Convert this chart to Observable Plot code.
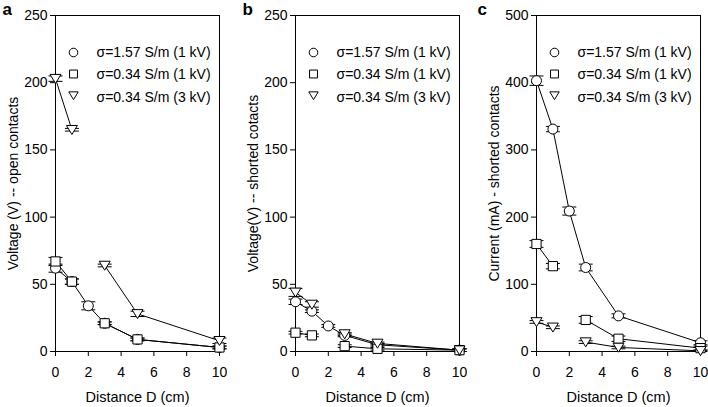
<!DOCTYPE html>
<html><head><meta charset="utf-8">
<script src="https://cdn.jsdelivr.net/npm/d3@7"></script>
<script src="https://cdn.jsdelivr.net/npm/@observablehq/plot@0.6"></script>
<style>
body{margin:0;background:#fff;}
#chart{display:flex;width:708px;height:407px;overflow:hidden;}
</style></head><body><div id="chart"></div>
<script>
// ---- data ----
const seriesNames = ["σ=1.57 S/m (1 kV)", "σ=0.34 S/m (1 kV)", "σ=0.34 S/m (3 kV)"];
const distCircle = [0, 1, 2, 3, 5, 10];
const distSquare = [0, 1, 3, 5, 10];
const distTriangle = [0, 1, 3, 5, 10];
const runCircle = [1, 1, 1, 1, 1, 1];
const runSquare = [1, 1, 2, 2, 2];
const runTriangle = [1, 1, 2, 2, 2];

const panelLetters = ["a", "b", "c"];
const yTitles = ["Voltage (V) -- open contacts", "Voltage(V) -- shorted cotacts", "Current (mA) - shorted contacts"];
const xTitle = "Distance D (cm)";
const xTicks = [0, 2, 4, 6, 8, 10];
const yTicksVoltage = [0, 50, 100, 150, 200, 250];
const yTicksCurrent = [0, 100, 200, 300, 400, 500];

// panel a: voltage, open contacts
const aCircle = [62, 52, 34, 21, 9, 3];
const aSquare = [67, 52, 21, 9, 3];
const aTriangle = [203, 165, 64, 28, 8];
const aCircleErr = [3, 2, 3, 1, 1, 1];
const aSquareErr = [3, 2, 1, 1, 1];
const aTriangleErr = [2, 1, 1, 2, 2];
// panel b: voltage, shorted contacts
const bCircle = [37, 30, 19, 12, 5, 1];
const bSquare = [14, 12, 4, 2, 1];
const bTriangle = [44, 35, 13, 6, 1];
const bCircleErr = [2, 1, 1, 1, 1, 1];
const bSquareErr = [1, 1, 1, 1, 1];
const bTriangleErr = [3, 2, 1, 1, 1];
// panel c: current, shorted contacts
const cCircle = [403, 331, 209, 125, 53, 13];
const cSquare = [160, 127, 47, 19, 5];
const cTriangle = [44, 36, 14, 6, 1];
const cCircleErr = [7, 4, 6, 5, 3, 3];
const cSquareErr = [5, 4, 5, 4, 3];
const cTriangleErr = [2, 2, 2, 2, 1];

// ---- symbols ----
const symCircle = {draw(ctx, size) { const r = Math.sqrt(size / Math.PI); ctx.moveTo(r, 0); ctx.arc(0, 0, r, 0, 2 * Math.PI); }};
const symSquare = {draw(ctx, size) { const r = Math.sqrt(size / Math.PI) * 0.92; ctx.rect(-r, -r, 2 * r, 2 * r); }};
const symTriDown = {draw(ctx, size) { const r = Math.sqrt(size / Math.PI); const w = r * 1.1; ctx.moveTo(-w, -r * 0.85); ctx.lineTo(w, -r * 0.85); ctx.lineTo(0, r * 0.95); ctx.closePath(); }};
const symCap = {draw(ctx, size) { const r = Math.sqrt(size / Math.PI); ctx.moveTo(-r, 0); ctx.lineTo(r, 0); }};

const FONT = "'Liberation Sans', Arial, Helvetica, sans-serif";

function panel(i, vals, errs, yDomain, yTicks, ml, mr, letterDx) {
  const series = [
    {dist: distCircle, run: runCircle, sym: symCircle},
    {dist: distSquare, run: runSquare, sym: symSquare},
    {dist: distTriangle, run: runTriangle, sym: symTriDown}
  ];
  const rows = series.flatMap((s, k) => s.dist.map((x, j) => ({k, x, y: vals[k][j], e: errs[k][j], seg: k + "-" + s.run[j]})));
  const marks = [
    Plot.frame({stroke: "black", strokeWidth: 1}),
    Plot.axisX({ticks: xTicks, tickSize: 5, tickPadding: 11, label: null, stroke: "black"}),
    Plot.axisY({ticks: yTicks, tickSize: 5, tickPadding: 3, label: null, stroke: "black"}),
    Plot.line(rows, {x: "x", y: "y", z: "seg", stroke: "black", strokeWidth: 1}),
    Plot.ruleX(rows, {x: "x", y1: d => d.y - d.e, y2: d => d.y + d.e, stroke: "black", strokeWidth: 1}),
    Plot.dot(rows, {x: "x", y: d => d.y + d.e, symbol: symCap, r: 7, stroke: "black", fill: "none", strokeWidth: 1}),
    Plot.dot(rows, {x: "x", y: d => d.y - d.e, symbol: symCap, r: 7, stroke: "black", fill: "none", strokeWidth: 1}),
    ...series.map((s, k) => Plot.dot(rows.filter(r => r.k === k), {x: "x", y: "y", symbol: s.sym, r: 5, stroke: "black", fill: "white", strokeWidth: 1})),
    ...series.map((s, k) => Plot.dot([seriesNames[k]], {frameAnchor: "top-left", dx: 18, dy: 37 + k * 21.5, symbol: s.sym, r: 4.3, stroke: "black", fill: "white", strokeWidth: 1})),
    ...series.map((s, k) => Plot.text([seriesNames[k]], {text: d => d, frameAnchor: "top-left", dx: 41, dy: 37 + k * 22.5, textAnchor: "start", lineAnchor: "middle", fontSize: 14, fill: "black"})),
    Plot.text([yTitles[i]], {text: d => d, frameAnchor: "left", dx: -42, rotate: -90, textAnchor: "middle", lineAnchor: "middle", fontSize: 14, fill: "black"}),
    Plot.text([xTitle], {text: d => d, frameAnchor: "bottom", dy: 46, textAnchor: "middle", lineAnchor: "middle", fontSize: 14.5, fill: "black"}),
    Plot.text([panelLetters[i]], {text: d => d, frameAnchor: "top-left", dx: letterDx, dy: -13, textAnchor: "start", lineAnchor: "top", fontWeight: "bold", fontSize: 17, fill: "black"})
  ];
  return Plot.plot({
    width: 236, height: 407,
    marginLeft: ml, marginRight: mr, marginTop: 15, marginBottom: 56,
    x: {domain: [0, 10]},
    y: {domain: yDomain},
    style: {fontFamily: FONT, fontSize: "14px", color: "black", background: "white", overflow: "visible"},
    marks
  });
}

const chart = document.getElementById("chart");
chart.append(panel(0, [aCircle, aSquare, aTriangle], [aCircleErr, aSquareErr, aTriangleErr], [0, 250], yTicksVoltage, 55, 17, -53));
chart.append(panel(1, [bCircle, bSquare, bTriangle], [bCircleErr, bSquareErr, bTriangleErr], [0, 250], yTicksVoltage, 59, 13, -53));
chart.append(panel(2, [cCircle, cSquare, cTriangle], [cCircleErr, cSquareErr, cTriangleErr], [0, 500], yTicksCurrent, 64, 8, -59));
</script>
</body></html>
